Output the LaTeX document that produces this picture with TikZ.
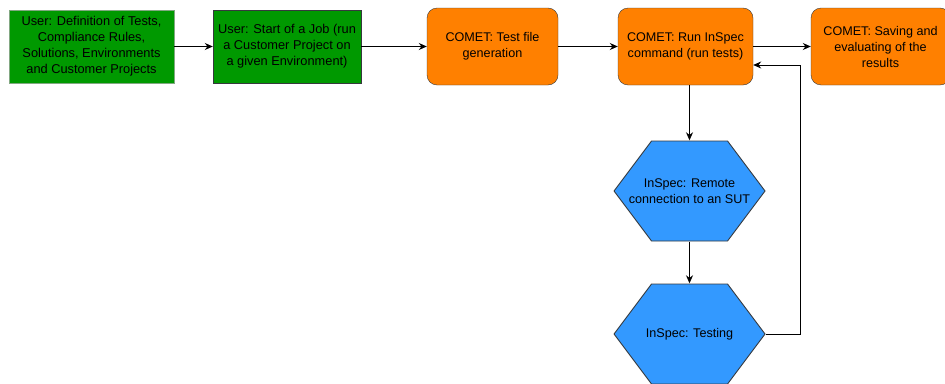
\documentclass[tikz,border=0pt]{standalone}
\usepackage{fontspec}
\setmainfont{Liberation Sans}
\usetikzlibrary{arrows.meta}
\definecolor{usergreen}{HTML}{009900}
\definecolor{userline}{HTML}{82A882}
\definecolor{cometorange}{HTML}{FF8000}
\definecolor{inspecblue}{HTML}{3399FF}
\definecolor{shapeline}{HTML}{36393D}
\begin{document}
\begin{tikzpicture}[x=1pt,y=-1pt,
  userbox/.style={draw=shapeline,fill=usergreen,minimum height=73pt,inner sep=1pt,align=center,font=\fontsize{12.8}{16}\selectfont},
  cometbox/.style={draw=shapeline,fill=cometorange,rounded corners=10pt,minimum height=77pt,inner sep=1pt,align=center,font=\fontsize{12.6}{16}\selectfont},
  inspec/.style={minimum width=152pt,minimum height=101pt,inner sep=1pt,align=center,font=\fontsize{12.6}{16}\selectfont,
    path picture={\draw [shapeline,fill=inspecblue,line width=0.9pt]
      ([xshift=38pt,yshift=-0.5pt]path picture bounding box.north west) --
      ([xshift=-38pt,yshift=-0.5pt]path picture bounding box.north east) --
      ([xshift=-0.5pt]path picture bounding box.east) --
      ([xshift=-38pt,yshift=0.5pt]path picture bounding box.south east) --
      ([xshift=38pt,yshift=0.5pt]path picture bounding box.south west) --
      ([xshift=0.5pt]path picture bounding box.west) -- cycle;}},
  flow/.style={-{Stealth[length=8pt,width=7pt]},line width=0.9pt,black}]
\useasboundingbox (0,0) rectangle (945,383);
\node [userbox,draw=userline,minimum width=165pt] (define) at (91.5,46.5) {User: Definition of Tests,\\Compliance Rules,\\Solutions, Environments\\and Customer Projects};
\node [userbox,minimum width=148pt] (job) at (287,46.5) {User: Start of a Job (run\\a Customer Project on\\a given Environment)};
\node [cometbox,minimum width=131pt] (gen) at (492.5,46.5) {COMET: Test file\\generation};
\node [cometbox,minimum width=135pt] (run) at (685.5,46.5) {COMET: Run InSpec\\command (run tests)};
\node [cometbox,minimum width=139pt] (save) at (880.5,46.5) {COMET: Saving and\\evaluating of the\\results};
\node [inspec] (remote) at (689.5,191) {InSpec: Remote\\connection to an SUT};
\node [inspec] (test) at (689.5,334) {InSpec: Testing};
\coordinate (back) at (800,65);
\draw [flow] (define) -- (job);
\draw [flow] (job) -- (gen);
\draw [flow] (gen) -- (run);
\draw [flow] (run) -- (save);
\draw [flow] (run.south -| remote) -- (remote);
\draw [flow] (remote) -- (test);
\draw [flow] (test.east) -| (back) -- (run.east |- back);
\end{tikzpicture}
\end{document}
